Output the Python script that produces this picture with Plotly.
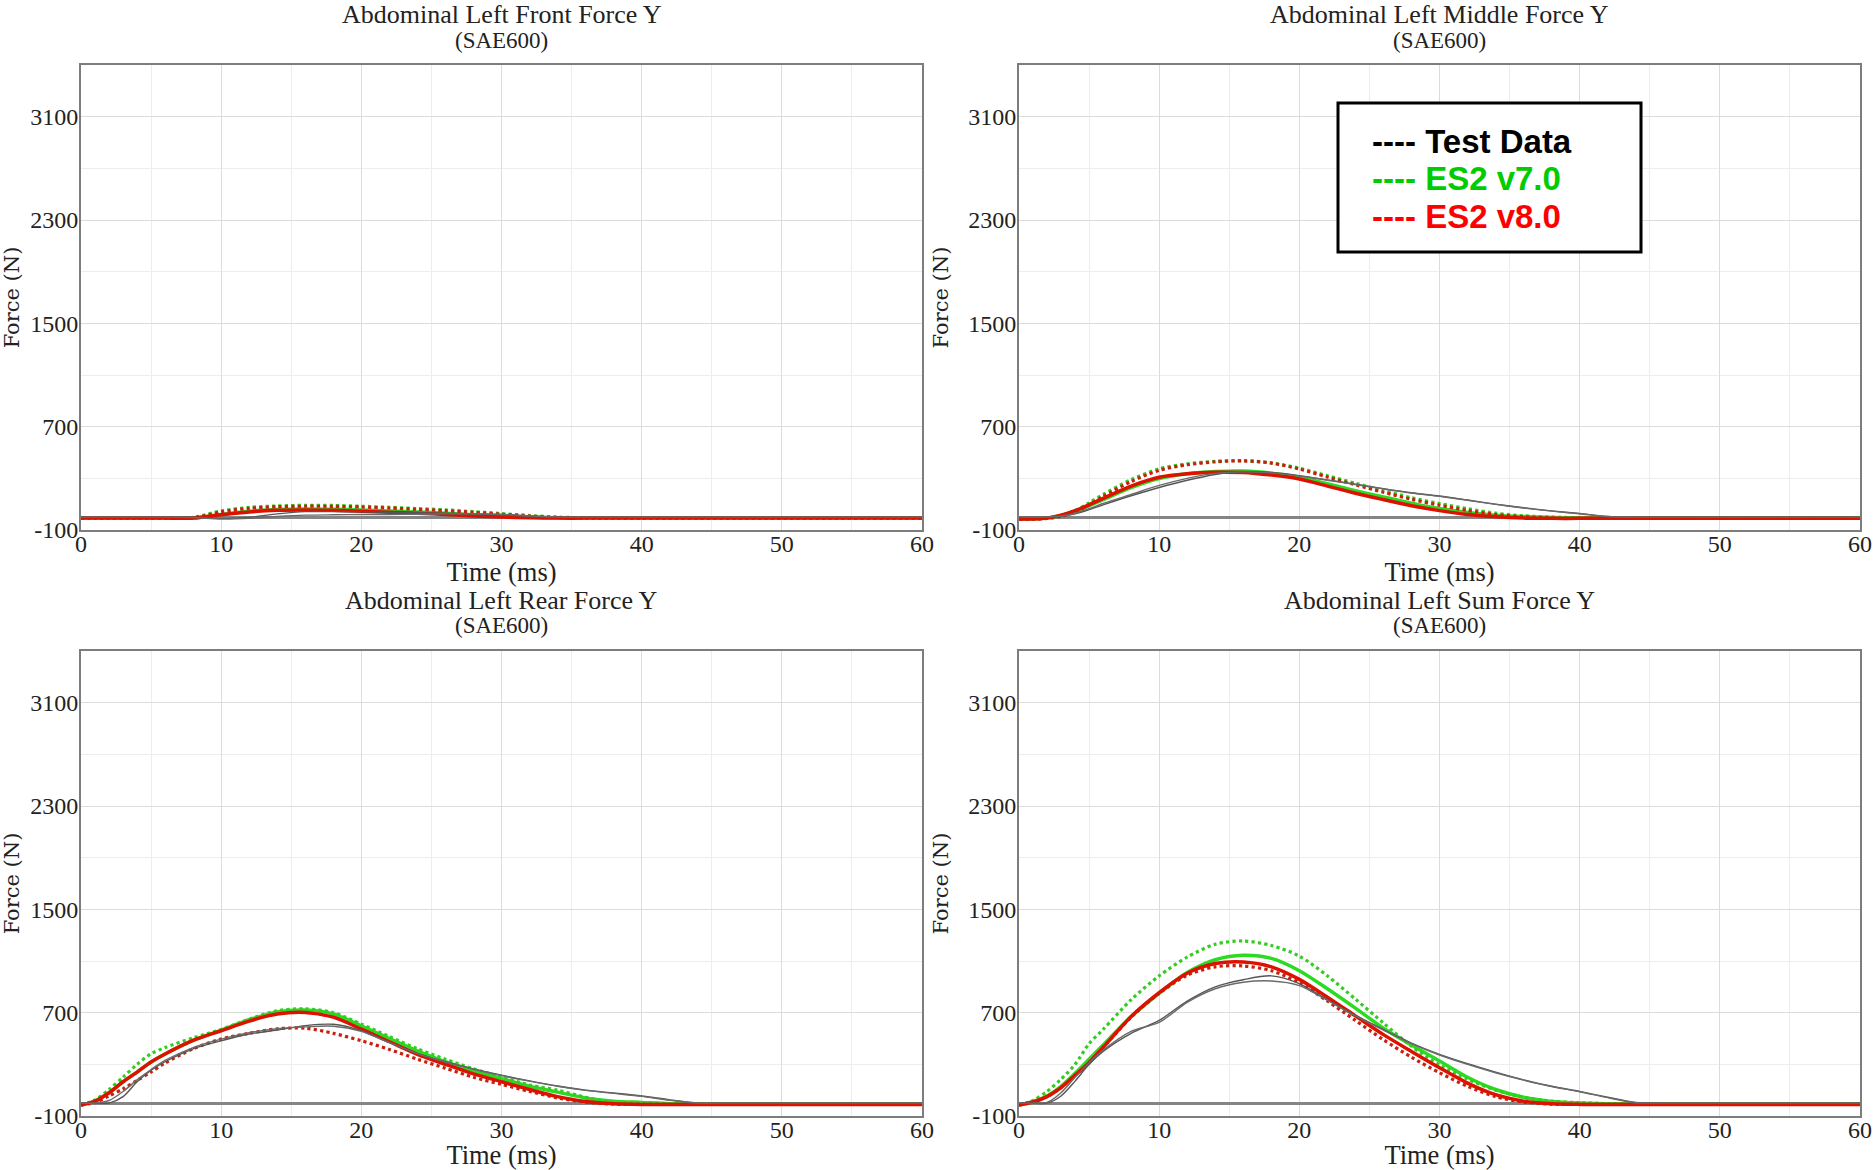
import plotly.graph_objects as go

# ---------------- data ----------------
T = [0, 1, 2, 3, 4, 5, 6, 8, 10, 12, 14, 16, 18, 20, 22, 24, 26, 28, 30, 32, 34, 36, 38, 40, 42, 44, 46, 60]

TITLES = ["Abdominal Left Front Force Y", "Abdominal Left Middle Force Y",
          "Abdominal Left Rear Force Y", "Abdominal Left Sum Force Y"]
SUBTITLE = "(SAE600)"
Y_TICKS = [-100, 700, 1500, 2300, 3100]
Y_TICKTEXT = ["-100", "700", "1500", "2300", "3100"]
X_TICKS = [0, 10, 20, 30, 40, 50, 60]

# Front
FRONT_TEST1 = [0, 0, 0, 0, 0, 0, 0, 0, -10, -2, 25, 42, 42, 40, 36, 33, 30, 25, 18, 6, 0, 0, 0, 0, 0, 0, 0, 0]
FRONT_TEST2 = [0, 0, 0, 0, 0, 0, 0, -3, -15, -10, 5, 15, 18, 20, 20, 22, 25, 25, 22, 10, 0, 0, 0, 0, 0, 0, 0, 0]
FRONT_V7 = [-8, -8, -8, -8, -8, -8, -8, -8, 20, 45, 58, 62, 60, 55, 48, 40, 30, 18, 8, 0, -5, -5, -5, -5, -5, -5, -5, -5]
FRONT_V7_DOT = [-8, -8, -8, -8, -8, -8, -8, -2, 48, 75, 86, 91, 90, 84, 76, 66, 56, 42, 28, 12, 0, -5, -5, -5, -5, -5, -5, -5]
FRONT_V8 = [-8, -8, -8, -8, -8, -8, -8, -8, 18, 40, 52, 55, 52, 45, 38, 30, 20, 8, 0, -5, -8, -8, -8, -8, -8, -8, -8, -8]
FRONT_V8_DOT = [-8, -8, -8, -8, -8, -8, -8, -6, 40, 68, 80, 84, 83, 78, 70, 60, 50, 37, 22, 8, -3, -8, -8, -8, -8, -8, -8, -8]

# Middle
MID_TEST1 = [0, 0, 0, 5, 25, 58, 95, 165, 229, 285, 330, 352, 345, 321, 288, 255, 220, 188, 163, 132, 100, 72, 48, 28, 5, 0, 0, 0]
MID_TEST2 = [0, 0, 0, 8, 30, 65, 105, 175, 245, 300, 338, 350, 342, 318, 285, 252, 218, 186, 160, 130, 98, 70, 46, 26, 4, 0, 0, 0]
MID_V7 = [-15, -15, -8, 12, 45, 88, 135, 228, 298, 335, 352, 356, 340, 308, 258, 205, 155, 108, 66, 36, 15, 4, -3, -8, -8, -8, -8, -8]
MID_V7_DOT = [-15, -15, -10, 10, 50, 110, 175, 290, 374, 412, 432, 437, 420, 379, 320, 262, 205, 150, 105, 65, 30, 10, 0, -5, -8, -8, -8, -8]
MID_V8 = [-15, -15, -8, 15, 50, 95, 145, 240, 308, 335, 347, 345, 325, 295, 240, 185, 135, 88, 50, 20, 2, -8, -10, -10, -10, -10, -10, -10]
MID_V8_DOT = [-15, -15, -10, 5, 40, 95, 160, 275, 362, 405, 428, 435, 418, 372, 310, 250, 192, 138, 92, 52, 20, 2, -8, -10, -10, -10, -10, -10]

# Rear
REAR_TEST1 = [0, 0, 0, 50, 165, 254, 320, 420, 483, 535, 565, 600, 610, 560, 470, 385, 320, 265, 216, 172, 132, 100, 78, 55, 25, 0, 0, 0]
REAR_TEST2 = [0, 0, 20, 90, 180, 260, 330, 430, 495, 545, 575, 590, 595, 555, 468, 383, 318, 262, 213, 170, 130, 98, 75, 52, 22, 0, 0, 0]
REAR_V7 = [-15, 15, 80, 165, 240, 318, 380, 485, 565, 645, 705, 720, 690, 598, 500, 405, 320, 250, 190, 130, 85, 40, 15, 5, -5, -8, -8, -8]
REAR_V7_DOT = [-15, 25, 105, 200, 300, 382, 430, 505, 570, 650, 715, 730, 700, 611, 515, 420, 340, 265, 203, 140, 100, 45, 5, 0, -5, -8, -8, -8]
REAR_V8 = [-15, 15, 80, 165, 240, 318, 380, 485, 560, 635, 690, 702, 665, 573, 475, 378, 300, 226, 165, 105, 50, 12, -5, -10, -10, -10, -10, -10]
REAR_V8_DOT = [-15, 5, 55, 110, 175, 241, 310, 420, 496, 540, 575, 580, 540, 483, 415, 340, 270, 200, 145, 90, 40, 8, -8, -10, -10, -10, -10, -10]

# Sum
SUM_TEST1 = [0, 0, 0, 55, 170, 300, 400, 540, 640, 790, 900, 955, 985, 925, 800, 680, 570, 465, 377, 305, 240, 180, 130, 90, 45, 5, 0, 0]
SUM_TEST2 = [0, 0, 5, 80, 200, 313, 410, 555, 625, 780, 885, 935, 945, 910, 795, 675, 565, 460, 372, 300, 235, 178, 128, 88, 42, 3, 0, 0]
SUM_V7 = [-15, 10, 55, 130, 230, 339, 450, 670, 850, 1010, 1110, 1145, 1120, 1025, 885, 735, 580, 450, 326, 200, 105, 45, 12, 0, -5, -8, -8, -8]
SUM_V7_DOT = [-15, 20, 90, 185, 300, 460, 570, 800, 985, 1130, 1230, 1255, 1220, 1138, 985, 805, 620, 440, 295, 185, 100, 45, 15, 3, -5, -8, -8, -8]
SUM_V8 = [-15, 8, 50, 120, 215, 313, 430, 670, 855, 1005, 1080, 1092, 1055, 958, 820, 675, 530, 400, 274, 155, 65, 15, -5, -10, -10, -10, -10, -10]
SUM_V8_DOT = [-15, 8, 50, 120, 215, 313, 430, 665, 850, 990, 1055, 1062, 1025, 932, 790, 640, 490, 355, 235, 130, 50, 8, -8, -10, -10, -10, -10, -10]

PANELS = [
    (FRONT_TEST1, FRONT_TEST2, FRONT_V7, FRONT_V7_DOT, FRONT_V8, FRONT_V8_DOT),
    (MID_TEST1, MID_TEST2, MID_V7, MID_V7_DOT, MID_V8, MID_V8_DOT),
    (REAR_TEST1, REAR_TEST2, REAR_V7, REAR_V7_DOT, REAR_V8, REAR_V8_DOT),
    (SUM_TEST1, SUM_TEST2, SUM_V7, SUM_V7_DOT, SUM_V8, SUM_V8_DOT),
]

LEGEND_LABELS = ["---- Test Data", "---- ES2 v7.0", "---- ES2 v8.0"]
LEGEND_COLORS = ["#000000", "#00cc00", "#ff0000"]

# ---------------- layout ----------------
W, H = 1875, 1170


def xp(px):
    return px / W


def yp(py):
    return 1 - py / H


XDOM = [(xp(81), xp(922)), (xp(1019), xp(1860))]
YDOM = [(yp(530), yp(65)), (yp(1116), yp(651))]

GREEN = "#2adb22"
GREEN_DOT = "#33cc22"
RED = "#dd1100"
RED_DOT = "#c8200f"
GRAY = "#555555"

fig = go.Figure()
serif = "Liberation Serif, Times New Roman, serif"

for i, series in enumerate(PANELS):
    row, col = divmod(i, 2)
    ax = "" if i == 0 else str(i + 1)
    xa, ya = "x" + ax, "y" + ax
    test1, test2, v7, v7d, v8, v8d = series
    styles = [
        (v7, GREEN, 3.5, "solid"),
        (v7d, GREEN_DOT, 3.2, "dot"),
        (v8d, RED_DOT, 3.2, "dot"),
        (v8, RED, 3.5, "solid"),
        (test1, GRAY, 1.4, "solid"),
        (test2, "#6a6a6a", 1.4, "solid"),
    ]
    for ys, c, w, d in styles:
        fig.add_trace(go.Scatter(x=T, y=ys, mode="lines", xaxis=xa, yaxis=ya,
                                 line=dict(color=c, width=w, dash=d, shape="spline", smoothing=0.8),
                                 showlegend=False, hoverinfo="skip"))
    common_axis = dict(showline=True, linecolor="#7d7d7d", linewidth=2, mirror=True,
                       ticks="", tickfont=dict(family=serif, size=24, color="#222"),
                       gridcolor="#dcdcdc", gridwidth=1, automargin=False)
    fig.layout["xaxis" + ax] = dict(
        domain=XDOM[col], anchor=ya, range=[0, 60], tickvals=X_TICKS,
        minor=dict(tick0=0, dtick=5, showgrid=True, gridcolor="#ededed", gridwidth=1),
        zeroline=False, ticklabelstandoff=-9,
        title=dict(text="Time (ms)", font=dict(family=serif, size=26.5, color="#222"), standoff=0),
        **common_axis)
    fig.layout["yaxis" + ax] = dict(
        domain=YDOM[row], anchor=xa, range=[-100, 3500], tickvals=Y_TICKS, ticktext=Y_TICKTEXT,
        minor=dict(tick0=-100, dtick=400, showgrid=True, gridcolor="#ededed", gridwidth=1),
        zeroline=True, zerolinecolor="#858585", zerolinewidth=2.5, ticklabelstandoff=-4,
        title=dict(text="Force (N)", font=dict(family="DejaVu Serif, serif", size=21, color="#222"), standoff=14),
        **common_axis)
    xc = (XDOM[col][0] + XDOM[col][1]) / 2
    ytop = 15 if row == 0 else 600
    fig.add_annotation(text=TITLES[i], x=xc, y=yp(ytop), xref="paper", yref="paper",
                       xanchor="center", yanchor="middle", showarrow=False,
                       font=dict(family=serif, size=26, color="#222"))
    fig.add_annotation(text=SUBTITLE, x=xc, y=yp(ytop + 25.5), xref="paper", yref="paper",
                       xanchor="center", yanchor="middle", showarrow=False,
                       font=dict(family=serif, size=23, color="#222"))

# legend box (drawn as shape + text lines)
fig.add_shape(type="rect", xref="paper", yref="paper",
              x0=xp(1338), x1=xp(1641), y0=yp(252), y1=yp(103),
              line=dict(color="black", width=3), fillcolor="white", layer="above")
for k, (lab, colr) in enumerate(zip(LEGEND_LABELS, LEGEND_COLORS)):
    yc = [141, 178, 216][k]
    fig.add_annotation(text="<b>" + lab + "</b>", x=xp(1370), y=yp(yc), xref="paper", yref="paper",
                       xanchor="left", yanchor="middle", showarrow=False,
                       font=dict(family="Liberation Sans, Arial, sans-serif", size=33, color=colr))

fig.update_layout(width=W, height=H, margin=dict(l=0, r=0, t=0, b=0),
                  paper_bgcolor="white", plot_bgcolor="white", showlegend=False)

fig.write_html("out.html", config={"displayModeBar": False},
               post_script="document.body.style.margin='0';document.body.style.padding='0';"
                           "document.body.style.overflow='hidden';")
